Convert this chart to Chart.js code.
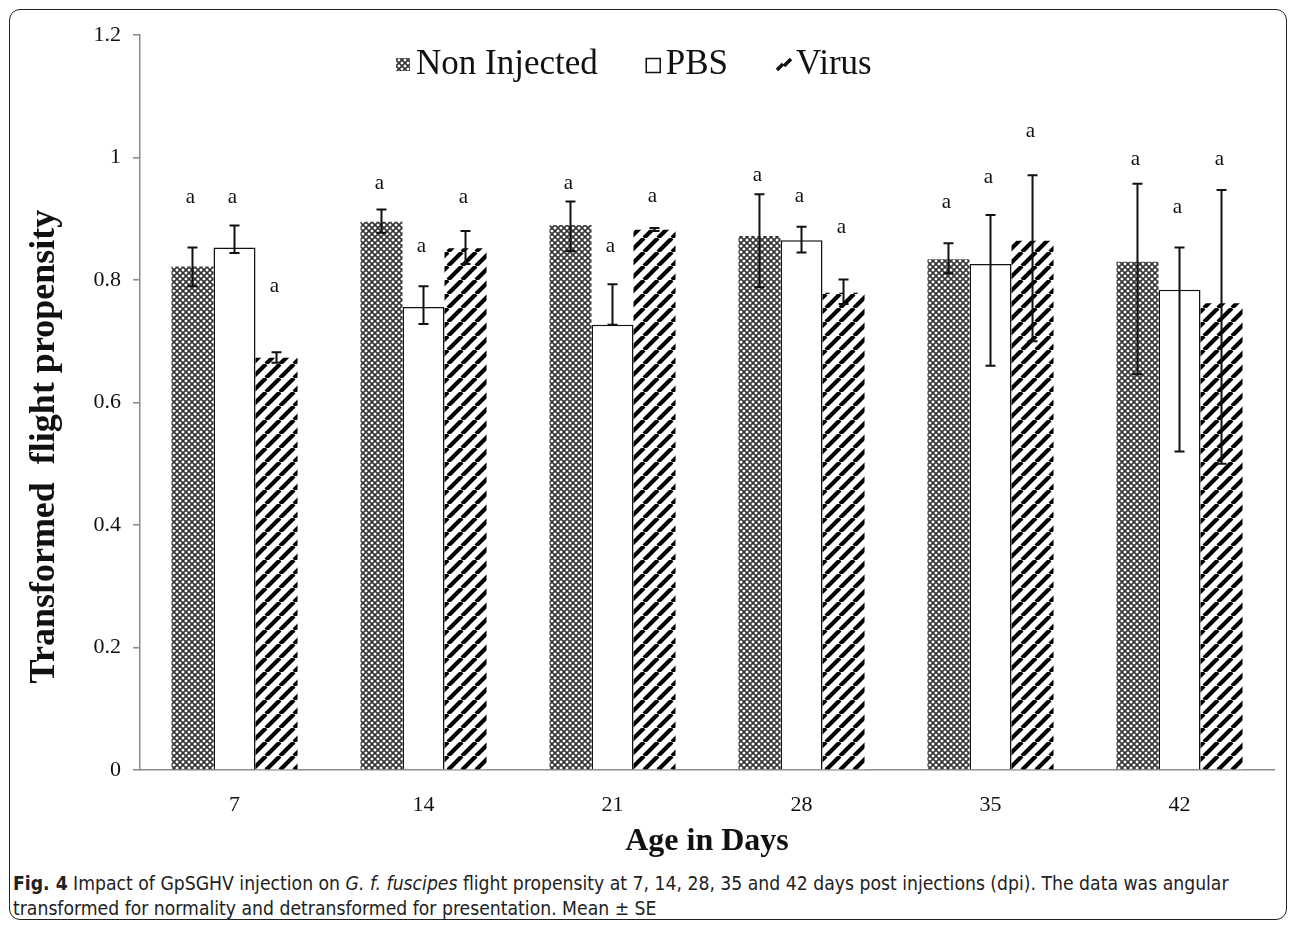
<!DOCTYPE html>
<html>
<head>
<meta charset="utf-8">
<script src="https://cdn.jsdelivr.net/npm/chart.js@4.4.0/dist/chart.umd.min.js"></script>
<style>
  body { margin: 0; background: #fff; width: 1290px; height: 925px; position: relative; overflow: hidden; }
  #frame { position: absolute; left: 9px; top: 9px; width: 1276px; height: 909px; border: 1.5px solid #222; border-radius: 11px; }
  #chart { position: absolute; left: 0; top: 0; }
  #caption { position: absolute; left: 13px; top: 871px; white-space: nowrap;
    font-family: "Liberation Sans Narrow", "DejaVu Sans Condensed", sans-serif; font-size: 19.2px; line-height: 25px; color: #222; }
</style>
</head>
<body>
<div id="frame"></div>
<canvas id="chart" width="1290" height="870"></canvas>
<div id="caption"><b>Fig. 4</b> Impact of GpSGHV injection on <i>G. f. fuscipes</i> flight propensity at 7, 14, 28, 35 and 42 days post injections (dpi). The data was angular<br>transformed for normality and detransformed for presentation. Mean ± SE</div>
<script>
// data
const days = ["7", "14", "21", "28", "35", "42"];
const nonInjected = [0.822, 0.895, 0.890, 0.872, 0.834, 0.830];
const pbs = [0.853, 0.756, 0.727, 0.865, 0.826, 0.784];
const virus = [0.673, 0.852, 0.882, 0.779, 0.864, 0.762];

// upper / lower end of the error bars (mean ± SE, detransformed)
const nonInjectedHigh = [0.853, 0.915, 0.928, 0.940, 0.860, 0.957];
const nonInjectedLow = [0.790, 0.877, 0.847, 0.788, 0.811, 0.646];
const pbsHigh = [0.889, 0.790, 0.793, 0.887, 0.906, 0.853];
const pbsLow = [0.844, 0.728, 0.727, 0.845, 0.660, 0.520];
const virusHigh = [0.682, 0.880, 0.885, 0.801, 0.971, 0.947];
const virusLow = [0.665, 0.826, 0.880, 0.761, 0.700, 0.500];

// where the significance letters sit (in axis units)
const nonInjectedLetterAt = [0.934, 0.957, 0.957, 0.970, 0.926, 0.996];
const pbsLetterAt = [0.934, 0.854, 0.854, 0.937, 0.968, 0.918];
const virusLetterAt = [0.790, 0.934, 0.936, 0.885, 1.043, 0.996];

const yTicks = [0, 0.2, 0.4, 0.6, 0.8, 1, 1.2];
const yTitle = "Transformed  flight propensity";

const serif = "'Liberation Serif', 'Times New Roman', serif";

function crossTile() {
  const c = document.createElement("canvas");
  c.width = 6; c.height = 6;
  const g = c.getContext("2d");
  g.fillStyle = "#fff";
  g.fillRect(0, 0, 6, 6);
  g.strokeStyle = "#333";
  g.lineWidth = 1.6;
  g.beginPath();
  g.moveTo(0, 0); g.lineTo(6, 6);
  g.moveTo(6, 0); g.lineTo(0, 6);
  g.stroke();
  return c;
}

function stripeTile() {
  const c = document.createElement("canvas");
  c.width = 14; c.height = 14;
  const g = c.getContext("2d");
  g.fillStyle = "#fff";
  g.fillRect(0, 0, 14, 14);
  g.strokeStyle = "#000";
  g.lineWidth = 4.2;
  g.beginPath();
  [-14, 0, 14].forEach(o => { g.moveTo(o, 14); g.lineTo(o + 14, 0); });
  g.stroke();
  return c;
}

let ctx = document.getElementById("chart").getContext("2d");
const crossFill = ctx.createPattern(crossTile(), "repeat");
const stripeFill = ctx.createPattern(stripeTile(), "repeat");

const errorBars = {
  id: "errorBars",
  afterDatasetsDraw(chart) {
    const c = chart.ctx, y = chart.scales.y;
    c.save();
    chart.data.datasets.forEach((ds, i) => {
      chart.getDatasetMeta(i).data.forEach((bar, j) => {
        const top = y.getPixelForValue(ds.errHigh[j]);
        const bot = y.getPixelForValue(ds.errLow[j]);
        c.strokeStyle = "#111";
        c.lineWidth = 2;
        c.beginPath();
        c.moveTo(bar.x, top); c.lineTo(bar.x, bot);
        c.moveTo(bar.x - 5, top); c.lineTo(bar.x + 5, top);
        c.moveTo(bar.x - 5, bot); c.lineTo(bar.x + 5, bot);
        c.stroke();
        c.fillStyle = "#111";
        c.font = "21px " + serif;
        c.textAlign = "center";
        c.textBaseline = "middle";
        c.fillText("a", bar.x - 2, y.getPixelForValue(ds.letterAt[j]));
      });
    });
    c.restore();
  }
};

// legend sits inside the plot area, so it is drawn by hand
const topLegend = {
  id: "topLegend",
  afterDraw(chart) {
    const c = chart.ctx;
    const cy = 65;
    let x = chart.chartArea.left + 256;
    c.save();
    c.font = "35px " + serif;
    c.textBaseline = "middle";
    chart.data.datasets.forEach(ds => {
      if (ds.label === "Non Injected") {
        c.fillStyle = crossFill;
        c.fillRect(x, cy - 7, 14, 13);
      } else if (ds.label === "PBS") {
        c.strokeStyle = "#111";
        c.lineWidth = 1.5;
        c.strokeRect(x + 0.5, cy - 6.5, 14, 14);
      } else {
        c.strokeStyle = "#111";
        c.lineWidth = 3.5;
        c.beginPath();
        c.moveTo(x + 1, cy + 5); c.lineTo(x + 7, cy - 1);
        c.moveTo(x + 8, cy + 1); c.lineTo(x + 15, cy - 6);
        c.stroke();
      }
      c.fillStyle = "#111";
      c.fillText(ds.label, x + 20, cy);
      x += 20 + c.measureText(ds.label).width + 48;
    });
    c.restore();
  }
};

// the y title sits a bit below the middle of the axis in the original
const sideTitle = {
  id: "sideTitle",
  afterDraw(chart) {
    const c = chart.ctx, a = chart.chartArea;
    c.save();
    c.translate(45, a.top + (a.bottom - a.top) * 0.56);
    c.rotate(-Math.PI / 2);
    c.font = "bold 36px " + serif;
    c.fillStyle = "#111";
    c.textAlign = "center";
    c.textBaseline = "middle";
    c.fillText(yTitle, 0, 0);
    c.restore();
  }
};

let flightChart = new Chart(ctx, {
  type: "bar",
  data: {
    labels: days,
    datasets: [
      {
        label: "Non Injected",
        data: nonInjected,
        backgroundColor: crossFill,
        borderWidth: 0,
        errHigh: nonInjectedHigh, errLow: nonInjectedLow, letterAt: nonInjectedLetterAt,
      },
      {
        label: "PBS",
        data: pbs,
        backgroundColor: "#fff",
        borderColor: "#111",
        borderWidth: 1.5,
        errHigh: pbsHigh, errLow: pbsLow, letterAt: pbsLetterAt,
      },
      {
        label: "Virus",
        data: virus,
        backgroundColor: stripeFill,
        borderWidth: 0,
        errHigh: virusHigh, errLow: virusLow, letterAt: virusLetterAt,
      },
    ],
  },
  options: {
    responsive: false,
    animation: false,
    events: [],
    layout: { padding: { left: 10, right: 16, top: 35, bottom: 10 } },
    categoryPercentage: 0.667,
    barPercentage: 1,
    plugins: {
      legend: { display: false },
      tooltip: { enabled: false },
    },
    scales: {
      x: {
        afterFit: (s) => { s.height = 90; },
        grid: { display: false },
        border: { display: true, color: "#8a8a8a", width: 1.5 },
        ticks: { color: "#111", font: { family: serif, size: 22 }, padding: 14 },
        title: {
          display: true,
          text: "Age in Days",
          color: "#111",
          font: { family: serif, size: 32, weight: "bold" },
          padding: { top: 0, bottom: -1 },
        },
      },
      y: {
        min: 0,
        max: 1.2,
        afterFit: (s) => { s.width = 130; },
        afterBuildTicks: (s) => { s.ticks = yTicks.map(v => ({ value: v })); },
        grid: { display: true, drawOnChartArea: false, drawTicks: true, tickLength: 7, color: "#8a8a8a", lineWidth: 1.5 },
        border: { display: true, color: "#8a8a8a", width: 1.5 },
        ticks: {
          color: "#111",
          font: { family: serif, size: 22 },
          padding: 12,
          callback: (v) => String(+(+v).toFixed(1)),
        },
        title: { display: false },
      },
    },
  },
  plugins: [errorBars, topLegend, sideTitle],
});
</script>
</body>
</html>
